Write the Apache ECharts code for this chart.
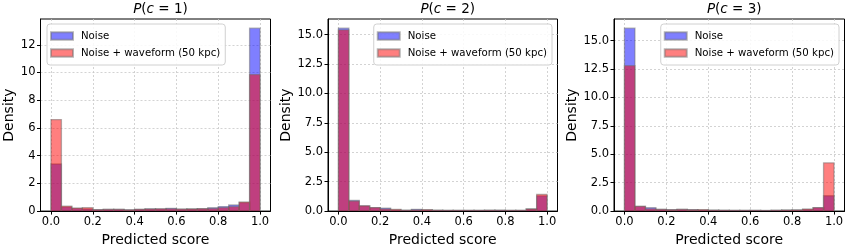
<!DOCTYPE html>
<html>
<head>
<meta charset="utf-8">
<script src="https://cdn.jsdelivr.net/npm/echarts@6/dist/echarts.min.js"></script>
<style>html,body{margin:0;padding:0;background:#fff}#c{width:850px;height:252px}</style>
</head>
<body>
<div id="c"></div>
<script>
// ---- data ----
const BIN_EDGES = [0,0.05,0.1,0.15,0.2,0.25,0.3,0.35,0.4,0.45,0.5,0.55,0.6,0.65,0.7,0.75,0.8,0.85,0.9,0.95,1.0];
const SERIES_NAMES = ['Noise', 'Noise + waveform (50 kpc)'];
const PANEL_TITLES = ['1', '2', '3'];
const X_TICKS = [0, 0.2, 0.4, 0.6, 0.8, 1.0];
const Y_TICKS_1 = [0, 2, 4, 6, 8, 10, 12];
const Y_TICKS_2 = [0, 2.5, 5, 7.5, 10, 12.5, 15];
const Y_TICKS_3 = [0, 2.5, 5, 7.5, 10, 12.5, 15];

const noise1 = [3.4, 0.3, 0.2, 0.15, 0.1, 0.12, 0.12, 0.09, 0.13, 0.16, 0.16, 0.2, 0.14, 0.15, 0.17, 0.24, 0.33, 0.44, 0.62, 13.2];
const wave1  = [6.6, 0.36, 0.22, 0.25, 0.1, 0.12, 0.12, 0.09, 0.13, 0.15, 0.16, 0.16, 0.14, 0.15, 0.17, 0.18, 0.25, 0.32, 0.65, 9.85];
const noise2 = [15.55, 0.9, 0.45, 0.3, 0.25, 0.1, 0.07, 0.15, 0.1, 0.07, 0.06, 0.06, 0.06, 0.06, 0.07, 0.08, 0.06, 0.06, 0.18, 1.3];
const wave2  = [15.4, 0.85, 0.45, 0.3, 0.18, 0.15, 0.07, 0.1, 0.12, 0.07, 0.06, 0.06, 0.06, 0.06, 0.07, 0.06, 0.06, 0.06, 0.18, 1.42];
const noise3 = [16.1, 0.42, 0.3, 0.15, 0.12, 0.15, 0.12, 0.1, 0.08, 0.07, 0.06, 0.06, 0.06, 0.05, 0.07, 0.09, 0.1, 0.15, 0.3, 1.35];
const wave3  = [12.8, 0.42, 0.2, 0.15, 0.12, 0.15, 0.12, 0.13, 0.08, 0.07, 0.06, 0.06, 0.06, 0.05, 0.07, 0.09, 0.1, 0.18, 0.3, 4.25];

const PANELS = [
  {noise: noise1, wave: wave1, yTicks: Y_TICKS_1, yDec: 0, left: 40.5, width: 230, legend: {left: 47}},
  {noise: noise2, wave: wave2, yTicks: Y_TICKS_2, yDec: 1, left: 328, width: 229.5, legend: {right: 298}},
  {noise: noise3, wave: wave3, yTicks: Y_TICKS_3, yDec: 1, left: 614, width: 230.5, legend: {right: 11}}
];

const FONT = "'DejaVu Sans', sans-serif";
const BLUE = 'rgba(0,0,255,0.5)';
const RED = 'rgba(255,0,0,0.5)';
const EDGE = 'rgba(110,110,110,0.5)';

function toRows(vals) {
  return vals.map((v, i) => [BIN_EDGES[i], BIN_EDGES[i + 1], v]);
}
function renderBar(params, api) {
  const p0 = api.coord([api.value(0), api.value(2)]);
  const p1 = api.coord([api.value(1), 0]);
  return {
    type: 'rect',
    shape: {x: p0[0], y: p0[1], width: p1[0] - p0[0], height: p1[1] - p0[1]},
    style: api.style()
  };
}

const grid = [], xAxis = [], yAxis = [], series = [], title = [], legend = [];
PANELS.forEach((p, k) => {
  grid.push({left: p.left, width: p.width, top: 19, height: 195, show: true,
    borderColor: '#000', borderWidth: 1, backgroundColor: 'transparent'});
  xAxis.push({
    type: 'value', gridIndex: k, min: -0.05, max: 1.05,
    name: 'Predicted score', nameLocation: 'middle', nameGap: 18,
    nameTextStyle: {fontFamily: FONT, fontSize: 14, color: '#000'},
    axisLine: {show: true, onZero: false, lineStyle: {color: '#000', width: 1}},
    axisTick: {show: true, length: 3.5, customValues: X_TICKS, lineStyle: {color: '#000'}},
    axisLabel: {customValues: X_TICKS, fontFamily: FONT, fontSize: 11.5, color: '#000', margin: 5,
      formatter: v => v.toFixed(1)},
    splitLine: {show: true, lineStyle: {color: '#c8c8c8', type: [2, 2], width: 0.8}}
  });
  const ymax = Math.max(...p.noise, ...p.wave) * 1.05;
  yAxis.push({
    type: 'value', gridIndex: k, min: 0, max: ymax,
    name: 'Density', nameLocation: 'middle', nameGap: k === 0 ? 24 : 32,
    nameTextStyle: {fontFamily: FONT, fontSize: 14, color: '#000'},
    axisLine: {show: true, onZero: false, lineStyle: {color: '#000', width: 1}},
    axisTick: {show: true, length: 3.5, customValues: p.yTicks, lineStyle: {color: '#000'}},
    axisLabel: {customValues: p.yTicks, fontFamily: FONT, fontSize: 11.5, color: '#000', margin: 5,
      formatter: v => v.toFixed(p.yDec)},
    splitLine: {show: true, lineStyle: {color: '#c8c8c8', type: [2, 2], width: 0.8}}
  });
  title.push({
    text: '{i|P}(' + '{i|c} = ' + PANEL_TITLES[k] + ')',
    left: p.left + p.width / 2, top: 0, padding: [2, 5, 2, 5], textAlign: 'center',
    textStyle: {fontFamily: FONT, fontSize: 13.5, fontWeight: 'normal', color: '#000', lineHeight: 15,
      rich: {i: {fontFamily: FONT, fontSize: 13.5, fontStyle: 'italic', color: '#000', lineHeight: 15}}}
  });
  series.push({
    type: 'custom', name: SERIES_NAMES[0], xAxisIndex: k, yAxisIndex: k,
    renderItem: renderBar, data: toRows(p.noise), encode: {x: [0, 1], y: 2},
    itemStyle: {color: BLUE, borderColor: EDGE, borderWidth: 1.3}, clip: true
  });
  series.push({
    type: 'custom', name: SERIES_NAMES[1], xAxisIndex: k, yAxisIndex: k,
    renderItem: renderBar, data: toRows(p.wave), encode: {x: [0, 1], y: 2},
    itemStyle: {color: RED, borderColor: EDGE, borderWidth: 1.3}, clip: true
  });
  legend.push(Object.assign({
    top: 24, orient: 'vertical', data: SERIES_NAMES, icon: 'rect',
    itemWidth: 22, itemHeight: 7.5, itemGap: 7,
    padding: [7, 5, 7, 3], backgroundColor: 'rgba(255,255,255,0.85)',
    borderColor: '#d0d0d0', borderWidth: 1, borderRadius: 3,
    selectedMode: false,
    textStyle: {fontFamily: FONT, fontSize: 10.2, color: '#000', padding: [0, 0, 0, 3]}
  }, p.legend));
});

const chart = echarts.init(document.getElementById('c'), null, {renderer: 'canvas'});
chart.setOption({animation: false, title, grid, xAxis, yAxis, legend, series});
</script>
</body>
</html>
